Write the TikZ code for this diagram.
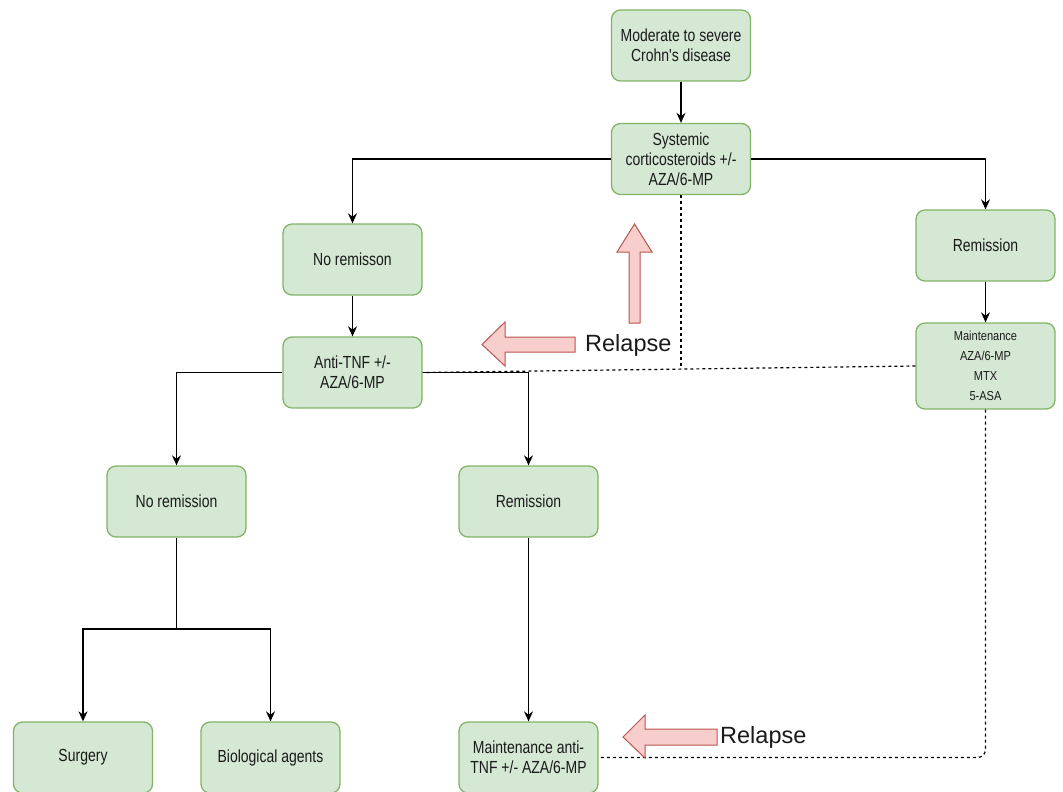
\documentclass[tikz,border=0pt]{standalone}
\usepackage{fontspec}
\setmainfont{Liberation Sans}
\newfontfamily\narrowfont{Liberation Sans}[FakeStretch=0.8]
\newfontfamily\semifont{Liberation Sans}[FakeStretch=0.85]
\usetikzlibrary{arrows.meta}
\definecolor{boxfill}{HTML}{D5E8D4}
\definecolor{boxline}{HTML}{82B366}
\definecolor{relfill}{HTML}{F8CECC}
\definecolor{relline}{HTML}{B85450}
\definecolor{txt}{HTML}{1A1A1A}
\begin{document}
\begin{tikzpicture}[x=1pt,y=-1pt,
  box/.style={draw=boxline,fill=boxfill,line width=1.3pt,rounded corners=9pt,
    minimum width=139pt,minimum height=71pt,align=center,inner sep=2pt,text=txt,
    font=\narrowfont\fontsize{17.5}{20}\selectfont},
  smallbox/.style={box,minimum height=86pt,font=\semifont\fontsize{13}{20}\selectfont},
  conn/.style={line width=1.3pt,-{Stealth[length=10pt,width=9pt]}},
  plain/.style={line width=1.3pt},
  dashline/.style={line width=1.2pt,dash pattern=on 3pt off 3pt},
  relapse/.style={fill=relfill,draw=relline,line width=1pt,line join=miter},
  reltext/.style={font=\fontsize{23.5}{26}\selectfont,anchor=west,inner sep=0pt,text=txt}
]
\useasboundingbox (0,0) rectangle (1063,792);

\node[box] (top) at (681,45.5) {Moderate to severe\\Crohn's disease};
\node[box] (sys) at (681,159) {Systemic\\corticosteroids +/-\\AZA/6-MP};
\node[box] (nr1) at (352.5,259.5) {No remisson};
\node[box] (anti) at (352.5,372.5) {Anti-TNF +/-\\AZA/6-MP};
\node[box] (rem1) at (985.5,245.5) {Remission};
\node[smallbox] (maint) at (985.5,366) {Maintenance\\AZA/6-MP\\MTX\\5-ASA};
\node[box] (nr2) at (176.5,501.5) {No remission};
\node[box] (rem2) at (528.5,501.5) {Remission};
\node[box] (surg) at (83,757.5) {Surgery};
\node[box] (bio) at (270.5,757.5) {Biological agents};
\node[box] (mant) at (528.5,757.5) {Maintenance anti-\\TNF +/- AZA/6-MP};

\draw[conn] (top) -- (sys);
\draw[conn] (sys.west) -| (nr1.north);
\draw[conn] (sys.east) -| (rem1.north);
\draw[conn] (nr1) -- (anti);
\draw[conn] (rem1) -- (maint);
\draw[conn] (anti.west) -| (nr2.north);
\draw[conn] (anti.east) -| (rem2.north);
\coordinate (split) at (176.5,629);
\draw[plain] (nr2.south) -- (split);
\draw[conn] (split) -| (surg.north);
\draw[conn] (split) -| (bio.north);
\draw[conn] (rem2) -- (mant);

\coordinate (j) at (681,369);
\draw[dashline] (sys.south) -- (j);
\draw[dashline] (maint.west) -- (anti.east);
\draw[dashline,rounded corners=8pt] (maint.south) |- (mant.east);

% relapse block arrows
\draw[relapse] (629,323) -- (629,252) -- (617,252) -- (634.5,224) -- (652,252) -- (640,252) -- (640,323) -- cycle;
\draw[relapse] (575,337) -- (505,337) -- (505,322) -- (482,344.5) -- (505,366) -- (505,352) -- (575,352) -- cycle;
\draw[relapse] (717,729) -- (645,729) -- (645,715) -- (623,737) -- (645,758) -- (645,745) -- (717,745) -- cycle;
\node[reltext] (rl1) at (585,345) {Relapse};
\node[reltext] (rl2) at (720,737) {Relapse};
\end{tikzpicture}
\end{document}
